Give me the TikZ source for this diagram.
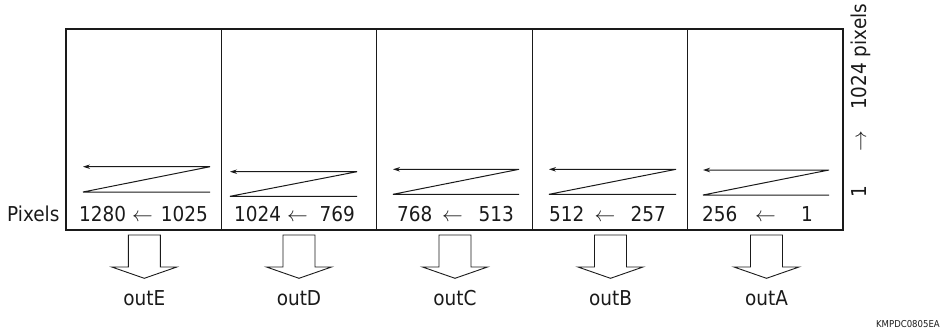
\documentclass[tikz,border=0pt]{standalone}
\usepackage{fontspec}
\setmainfont{DejaVu Sans Condensed}
\usetikzlibrary{arrows.meta}
\definecolor{ink}{HTML}{1A1A1A}
\begin{document}
\begin{tikzpicture}[x=1pt,y=-1pt,
  lbl/.style={font=\fontsize{20.5}{24}\selectfont, text=ink, inner sep=0pt},
  frame/.style={draw=ink, line width=1.1pt},
  scan/.style={draw=ink, line width=1pt, -{Stealth[length=7pt,width=4.5pt]}},
  outarrow/.style={draw=ink, line width=0.9pt, fill=white, line join=miter},
  tag/.style={font=\fontsize{9.5}{11}\selectfont, text=ink, inner sep=0pt}]
\useasboundingbox (0,0) rectangle (943,333);

% five readout segments
\foreach \i in {0,...,4}
  \draw[frame] ({66+\i*155.4},29) rectangle ({66+(\i+1)*155.4},230);

% raster scan direction inside each segment
\foreach \L/\R/\T/\B in {83/210/166.7/192, 230/357/171.7/196.3,
    393/519/169.3/194.3, 549/676/169.3/194.3, 703/829/170/195}
  \draw[scan] (\R,\B) -- (\L,\B) -- (\R,\T) -- (\L,\T);

% pixel ranges
\node[lbl, anchor=base west] (pixlabel) at (7,221) {Pixels};
\foreach \n/\a/\b/\la/\ca/\rb in {E/1280/1025/79/142.5/208,
    D/1024/769/234/297.5/355, C/768/513/397/452.5/514,
    B/512/257/549/605/666, A/256/1/702/765.5/813}
{
  \node[lbl, anchor=base west] (lo\n) at (\la,221) {\a};
  \node[lbl, anchor=base] (ar\n) at (\ca,221) {$\leftarrow$};
  \node[lbl, anchor=base east] (hi\n) at (\rb,221) {\b};
}

% output taps
\foreach \n/\c in {E/144.3, D/299, C/455, B/610.5, A/766.5}
{
  \draw[outarrow] (\c-16,235) -- (\c+16,235) -- (\c+16,267) -- (\c+32.5,267)
    -- (\c,278.3) -- (\c-32.5,267) -- (\c-16,267) -- cycle;
  \node[lbl, anchor=base] (out\n) at (\c,305) {out\n};
}

% vertical pixel count
\node[lbl, rotate=90, anchor=base west] (rowfirst) at (866,198) {1};
\node[lbl, rotate=90, anchor=base] (rowdir) at (866,141.5) {$\rightarrow$};
\node[lbl, rotate=90, anchor=base west] (rowcount) at (866,110) {1024 pixels};

\node[tag, anchor=base east] (code) at (940,327) {KMPDC0805EA};
\end{tikzpicture}
\end{document}
